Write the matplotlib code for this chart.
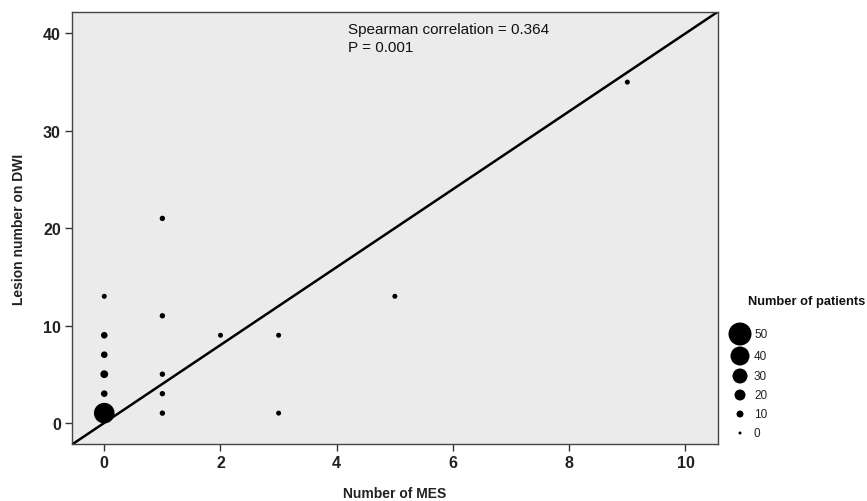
import matplotlib
matplotlib.use("Agg")
import matplotlib.pyplot as plt
import numpy as np

plt.rcParams['font.family'] = ['Liberation Sans', 'DejaVu Sans']

# Data
mes = [0, 0, 0, 0, 0, 0, 1, 1, 1, 1, 1, 2, 3, 3, 5, 9]
lesions = [1, 3, 5, 7, 9, 13, 21, 11, 5, 3, 1, 9, 9, 1, 13, 35]
patients = [44, 9, 12, 9, 9, 5, 6, 6, 6, 6, 6, 5, 5, 5, 5, 5]
legend_counts = [50, 40, 30, 20, 10, 0]
x_ticks = [0, 2, 4, 6, 8, 10]
y_ticks = [0, 10, 20, 30, 40]
fit_slope = 4.0
fit_intercept = 0.0
spearman_text = "Spearman correlation = 0.364"
p_text = "P = 0.001"

DPI = 100

def marker_area(n):
    n = np.asarray(n, dtype=float)
    d_px = 3.0 + 0.4 * n
    d_pt = d_px * 72.0 / DPI
    return d_pt ** 2

fig = plt.figure(figsize=(8.67, 5.02), dpi=DPI)
ax = fig.add_axes([72 / 867, 57 / 502, 646 / 867, 432 / 502])
ax.set_facecolor('#ebebeb')

ax.scatter(mes, lesions, s=marker_area(patients), c='black', edgecolors='none', zorder=3)
ax.axline((0, fit_intercept), slope=fit_slope, color='black', lw=1.8, zorder=2)

ax.set_xlim(-0.555, 10.56)
ax.set_ylim(-2.17, 42.2)
ax.set_xticks(x_ticks)
ax.set_yticks(y_ticks)
ax.tick_params(direction='out', length=5, width=1, color='#333333',
               labelsize=11.5, pad=3)
for lab in ax.get_xticklabels() + ax.get_yticklabels():
    lab.set_fontweight('bold')
    lab.set_color('#222222')
for sp in ax.spines.values():
    sp.set_color('#444444')
    sp.set_linewidth(1.0)

ax.set_xlabel("Number of MES", fontsize=10, fontweight='bold', labelpad=11.5, color='#222222')
ax.set_ylabel("Lesion number on DWI", fontsize=10, fontweight='bold', labelpad=12, color='#222222')

ax.text(4.2, 40.0, spearman_text, fontsize=11, va='baseline', ha='left', color='#111111')
ax.text(4.2, 38.15, p_text, fontsize=11, va='baseline', ha='left', color='#111111')

# Legend (manual), in pixel coordinates
lax = fig.add_axes([0, 0, 1, 1], facecolor='none')
lax.set_xlim(0, 867)
lax.set_ylim(502, 0)
lax.axis('off')
lax.text(865, 305, "Number of patients", fontsize=9.3, fontweight='bold',
         ha='right', va='baseline', color='#111111')
leg_y = [335, 357, 377, 396, 415, 434]
lax.scatter([740] * len(legend_counts), leg_y, s=marker_area(legend_counts),
            c='black', edgecolors='none')
for yy, n in zip(leg_y, legend_counts):
    lax.text(754, yy, str(n), fontsize=8.5, va='center', ha='left', color='#222222')

fig.savefig("out.png", dpi=DPI)
